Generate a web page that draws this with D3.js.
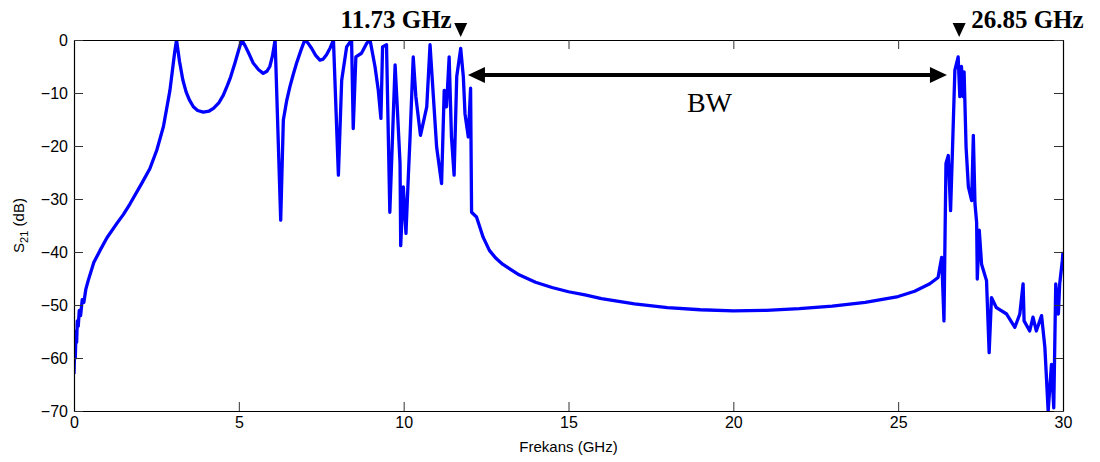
<!DOCTYPE html>
<html>
<head>
<meta charset="utf-8">
<script src="https://cdn.jsdelivr.net/npm/d3@7"></script>
<style>
  body { margin: 0; background: #fff; }
  .tick-label { font-family: Arial, "Liberation Sans", sans-serif; font-size: 16px; fill: #000; }
  .axis-label { font-family: Arial, "Liberation Sans", sans-serif; font-size: 15px; fill: #000; }
  .marker-label { font-family: "Times New Roman", "Liberation Serif", serif; font-size: 25px; font-weight: bold; fill: #000; }
  .bw-label { font-family: "Times New Roman", "Liberation Serif", serif; font-size: 28px; fill: #000; }
</style>
</head>
<body>
<div id="chart"></div>
<script>
// S21 trace (GHz, dB)
const freqGHz = [
  0, 0.02, 0.04, 0.06, 0.08, 0.1, 0.13, 0.16, 0.2, 0.25, 0.3, 0.36, 0.43, 0.6, 0.79, 1.0,
  1.29, 1.5, 1.7, 2.05, 2.3, 2.51, 2.71, 2.91, 3.05, 3.11, 3.2, 3.3, 3.4, 3.5, 3.62, 3.75,
  3.92, 4.1, 4.23, 4.4, 4.53, 4.65, 4.75, 4.88, 5.0, 5.09, 5.2, 5.3, 5.44, 5.6, 5.74, 5.85,
  5.94, 6.02, 6.10, 6.27, 6.35, 6.45, 6.55, 6.65, 6.75, 6.88, 7.0, 7.1, 7.21, 7.33, 7.46,
  7.56, 7.66, 7.77, 7.87,
  8.02, 8.12, 8.27, 8.42, 8.47, 8.55, 8.72, 8.88, 8.98, 9.13, 9.23, 9.31, 9.36, 9.48, 9.58,
  9.74, 9.79, 9.89, 9.91, 9.99, 10.07, 10.14, 10.19, 10.29, 10.37, 10.51, 10.70, 10.80,
  11.0, 11.15, 11.23, 11.30, 11.38, 11.45, 11.53, 11.61, 11.73, 11.81, 11.86, 11.96, 12.03,
  12.06, 12.21, 12.41, 12.6, 12.8, 13.0, 13.5, 14.0, 14.5, 15.0, 15.5, 16.0, 17.0, 18.0,
  19.0, 20.0, 21.0, 22.0, 23.0, 24.0, 25.0, 25.5, 25.96, 26.21, 26.32, 26.39, 26.42, 26.45,
  26.52, 26.59, 26.65, 26.72, 26.82, 26.87, 26.92, 26.97, 27.0, 27.06, 27.13, 27.23, 27.28,
  27.33, 27.38, 27.40, 27.46, 27.53, 27.68, 27.76, 27.83, 27.98, 28.29, 28.54, 28.69, 28.79,
  28.82, 28.99, 29.09, 29.19, 29.35, 29.45, 29.55, 29.65, 29.72, 29.78, 29.86, 29.90, 29.98, 30
];
const s21dB = [
  -63, -58, -60, -55, -57, -53, -54, -51, -52, -49, -49.5, -47, -45.4, -42, -39.7, -37.3,
  -34.7, -32.9, -30.9, -27.1, -24.3, -20.8, -16.4, -9.5, -2.5, 0, -4, -7.5, -9.8, -11.3, -12.6, -13.3,
  -13.6, -13.4, -12.9, -11.8, -10.4, -8.6, -7, -4.4, -1.8, 0, -1.2, -2.5, -4.4, -5.6, -6.3, -5.9,
  -5.0, -3, 0, -34.0, -15.1, -11.5, -8.8, -6.5, -4.4, -2, 0, -0.6, -1.6, -2.9, -3.8,
  -3.6, -2.8, -1.5, 0,
  -25.5, -7.6, -1.3, 0, -16.7, -3.2, -2.5, -0.6, 0, -5.0, -9.5, -14.8, -1.3, -0.9, -32.5,
  -4.7, -10.7, -23.3, -38.8, -27.7, -36.5, -25.9, -18.9, -3.2, -10.7, -18.0, -12.6, -0.9,
  -20.2, -27.1, -9.5, -12.6, -3.2, -18.3, -25.5, -6.9, -1.6, -6.9, -13.9, -18.3, -9.1,
  -32.5, -33.4, -37.2, -39.7, -41.2, -42.3, -44.3, -45.7, -46.7, -47.5, -48.1, -48.8, -49.8, -50.5,
  -50.9, -51.1, -51.0, -50.7, -50.2, -49.5, -48.4, -47.4, -46.0, -44.8, -41, -53, -37.8, -23.3,
  -21.8, -32.2, -20.2, -5.7, -3.2, -10.7, -5.0, -10.7, -6.0, -20.2, -27.7, -30.3, -18.0,
  -30.9, -34.4, -45.1, -35.9, -42.3, -45.4, -59, -48.6, -50.5, -51.7, -54.2, -51.7, -46.0,
  -53, -54.9, -52.3, -54.9, -52, -58, -70, -61.2, -69.4, -46, -51.7, -46, -41.6, -40
];

const xTicks = [0, 5, 10, 15, 20, 25, 30];
const yTicks = [0, -10, -20, -30, -40, -50, -60, -70];

const markerFreqs = [11.73, 26.85];
const markerLabels = ["11.73 GHz", "26.85 GHz"];

// bandwidth arrow (GHz span at a dB level)
const bwSpan = [11.95, 26.48];
const bwLevel = -6.6;
const bwText = "BW";

const width = 1100, height = 462;
const margin = { top: 40, right: 37, bottom: 51, left: 74 };
const innerW = width - margin.left - margin.right;
const innerH = height - margin.top - margin.bottom;

const svg = d3.select("#chart").append("svg")
  .attr("width", width)
  .attr("height", height);

const g = svg.append("g")
  .attr("transform", `translate(${margin.left},${margin.top})`);

const x = d3.scaleLinear().domain([0, 30]).range([0, innerW]);
const y = d3.scaleLinear().domain([-70, 0]).range([innerH, 0]);

svg.append("defs").append("clipPath")
  .attr("id", "plot-clip")
  .append("rect")
  .attr("width", innerW)
  .attr("height", innerH);

// trace
const points = freqGHz.map((f, i) => [f, s21dB[i]]);
const line = d3.line()
  .x(d => x(d[0]))
  .y(d => y(d[1]));

g.append("path")
  .datum(points)
  .attr("clip-path", "url(#plot-clip)")
  .attr("fill", "none")
  .attr("stroke", "#0000ff")
  .attr("stroke-width", 3.3)
  .attr("stroke-linejoin", "round")
  .attr("d", line);

// axes, matlab-style box with inward ticks
const tickLen = 9;
g.append("g")
  .attr("transform", `translate(0,${innerH})`)
  .call(d3.axisBottom(x).tickValues(xTicks).tickSizeInner(-tickLen).tickSizeOuter(0).tickPadding(6))
  .call(a => a.selectAll("text").attr("class", "tick-label").attr("font-size", null).attr("font-family", null));
g.append("g")
  .call(d3.axisTop(x).tickValues(xTicks).tickSizeInner(-tickLen).tickSizeOuter(0).tickFormat(""));
g.append("g")
  .call(d3.axisLeft(y).tickValues(yTicks).tickSizeInner(-tickLen).tickSizeOuter(0).tickPadding(5))
  .call(a => a.selectAll("text").attr("class", "tick-label").attr("font-size", null).attr("font-family", null).attr("dx", "-1"));
g.append("g")
  .attr("transform", `translate(${innerW},0)`)
  .call(d3.axisRight(y).tickValues(yTicks).tickSizeInner(-tickLen).tickSizeOuter(0).tickFormat(""));

g.selectAll(".domain").attr("stroke", "#000").attr("stroke-width", 1.2);
g.selectAll(".tick line").attr("stroke", "#333");

// axis titles
svg.append("text")
  .attr("class", "axis-label")
  .attr("x", margin.left + innerW / 2)
  .attr("y", height - 10)
  .attr("text-anchor", "middle")
  .text("Frekans (GHz)");

const yl = svg.append("text")
  .attr("class", "axis-label")
  .attr("transform", `translate(24,${margin.top + innerH / 2}) rotate(-90)`)
  .attr("text-anchor", "middle");
yl.append("tspan").text("S");
yl.append("tspan").attr("font-size", "11px").attr("dy", "4").text("21");
yl.append("tspan").attr("dy", "-4").text(" (dB)");

// markers
markerFreqs.forEach((f, i) => {
  const mx = x(f);
  g.append("path")
    .attr("d", `M${mx - 6.5},-17 L${mx + 6.5},-17 L${mx},-3 Z`)
    .attr("fill", "#000");
  g.append("text")
    .attr("class", "marker-label")
    .attr("x", i === 0 ? mx - 9 : mx + 12)
    .attr("y", -12)
    .attr("text-anchor", i === 0 ? "end" : "start")
    .text(markerLabels[i]);
});

// BW double arrow
const ax0 = x(bwSpan[0]), ax1 = x(bwSpan[1]), ay = y(bwLevel);
const head = 17, halfH = 8;
g.append("line")
  .attr("x1", ax0 + head - 2).attr("x2", ax1 - head + 2)
  .attr("y1", ay).attr("y2", ay)
  .attr("stroke", "#000")
  .attr("stroke-width", 4);
g.append("path")
  .attr("d", `M${ax0},${ay} L${ax0 + head},${ay - halfH} L${ax0 + head},${ay + halfH} Z`)
  .attr("fill", "#000");
g.append("path")
  .attr("d", `M${ax1},${ay} L${ax1 - head},${ay - halfH} L${ax1 - head},${ay + halfH} Z`)
  .attr("fill", "#000");

g.append("text")
  .attr("class", "bw-label")
  .attr("x", (ax0 + ax1) / 2 + 2)
  .attr("y", ay + 37)
  .attr("text-anchor", "middle")
  .text(bwText);
</script>
</body>
</html>
